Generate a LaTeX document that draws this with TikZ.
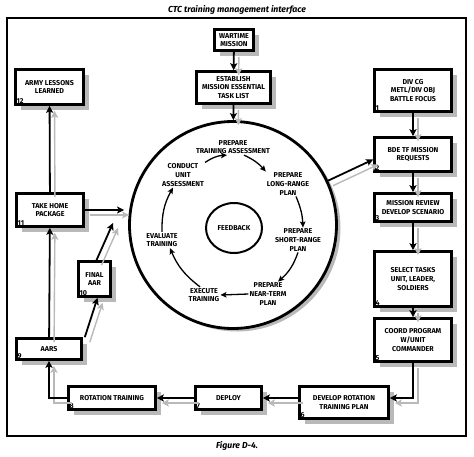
\documentclass[tikz,border=0pt]{standalone}
\usepackage{fontspec}
\setmainfont{Fira Sans}
\usetikzlibrary{arrows.meta,shadows,shapes.geometric}

\begin{document}
\begin{tikzpicture}[x=1pt,y=-1pt,
  font=\fontsize{7.1}{8.8}\selectfont\bfseries,
  box/.style={draw, line width=2.6pt, fill=white, align=center, inner sep=1pt,
    drop shadow={shadow xshift=5pt, shadow yshift=-5pt, fill=gray!55, opacity=1}},
  num/.style={anchor=south west, inner sep=2.2pt},
  stage/.style={align=center, inner sep=1pt},
  link/.style={line width=1.8pt, -{Stealth[length=7pt,width=7pt,inset=1.5pt]}},
  ghost/.style={link, gray!55, line width=1.4pt, transform canvas={shift={(5pt,-5pt)}}},
  turn/.style={line width=1.3pt, -{Stealth[length=6pt,width=5.5pt,inset=1.2pt]}}]
\useasboundingbox (0,0) rectangle (474,456);
\node[font=\fontsize{8.7}{10}\selectfont\bfseries\itshape] (title) at (237,10) {CTC training management interface};
\draw[line width=1.8pt] (7,18) rectangle (466,436);
\node[font=\fontsize{8.7}{10}\selectfont\bfseries\itshape] (fig) at (237,446) {Figure D-4.};

% training cycle
\node[circle, draw, line width=2.8pt, fill=white, minimum size=207pt,
  drop shadow={shadow xshift=4pt, shadow yshift=-3pt, fill=gray!55, opacity=1}] (cyc) at (233,225) {};
\node[ellipse, draw, line width=2pt, minimum width=56pt, minimum height=50pt] (fb) at (234,228) {FEEDBACK};
\node[stage] (tass) at (233,147) {PREPARE\\TRAINING ASSESSMENT};
\node[stage] (long) at (288,184) {PREPARE\\LONG-RANGE\\PLAN};
\node[stage] (short) at (298,240) {PREPARE\\SHORT-RANGE\\PLAN};
\node[stage] (near) at (268,294) {PREPARE\\NEAR-TERM\\PLAN};
\node[stage] (exec) at (204,295) {EXECUTE\\TRAINING};
\node[stage] (eval) at (162,240) {EVALUATE\\TRAINING};
\node[stage] (conduct) at (183,175) {CONDUCT\\UNIT\\ASSESSMENT};
\draw[turn] (conduct.north east) to[bend left=15] ([xshift=-6pt]tass.south);
\draw[turn] ([xshift=11pt]tass.south) to[bend left=12] (long.north west);
\draw[turn] ([xshift=8pt]long.south) to[bend left=10] ([xshift=5pt]short.north);
\draw[turn] (short.south) to[bend left=15] ([xshift=10pt]near.north);
\draw[turn] (near.west) -- (exec.east);
\draw[turn] ([xshift=-4pt]exec.north) to[bend left=15] ([xshift=8pt]eval.south);
\draw[turn] (eval.north) to[bend left=15] ([xshift=-10pt]conduct.south);

% boxes
\node[box, minimum width=39pt, minimum height=21pt] (war) at (234,40) {WARTIME\\MISSION};
\node[box, minimum width=74pt, minimum height=32pt] (metl) at (233.5,87.5) {ESTABLISH\\MISSION ESSENTIAL\\TASK LIST};
\node[box, minimum width=77pt, minimum height=42pt] (b1) at (413,90.5) {DIV CG\\METL/DIV OBJ\\BATTLE FOCUS};
\node[box, minimum width=77pt, minimum height=34pt] (b2) at (413,154.5) {BDE TF MISSION\\REQUESTS};
\node[box, minimum width=77pt, minimum height=28pt] (b3) at (413,207.5) {MISSION REVIEW\\DEVELOP SCENARIO};
\node[box, minimum width=77pt, minimum height=55pt] (b4) at (413,279) {SELECT TASKS\\UNIT, LEADER,\\SOLDIERS};
\node[box, minimum width=77pt, minimum height=43pt] (b5) at (413,340) {COORD PROGRAM\\W/UNIT\\COMMANDER};
\node[box, minimum width=89pt, minimum height=32pt] (b6) at (344,402.5) {DEVELOP ROTATION\\TRAINING PLAN};
\node[box, minimum width=66pt, minimum height=23pt] (b7) at (228.5,398) {DEPLOY};
\node[box, minimum width=87pt, minimum height=23pt] (b8) at (112,398) {ROTATION TRAINING};
\node[box, minimum width=65pt, minimum height=21pt] (b9) at (49,349) {AARS};
\node[box, minimum width=32pt, minimum height=35pt] (b10) at (94.5,279) {FINAL\\AAR};
\node[box, minimum width=67pt, minimum height=33pt] (b11) at (50,210) {TAKE HOME\\PACKAGE};
\node[box, minimum width=68pt, minimum height=35pt] (b12) at (49.5,87) {ARMY LESSONS\\LEARNED};
\foreach \n in {1,...,12}
  \node[num] (n\n) at (b\n.south west) {\n};

% connectors
\coordinate (in10) at (113,223);
\foreach \a/\b in {war/metl, metl/cyc, b1/b2, b2/b3, b3/b4, b4/b5, b7/b8, b9/b11, b11/b12} {
  \draw[ghost] (\a) -- (\b);
  \draw[link] (\a) -- (\b);
}
\foreach \s in {ghost, link} {
  \draw[\s] (b5.south) |- (b6.east|-b7);
  \draw[\s] (b6.west|-b7) -- (b7);
  \draw[\s] (b8.west) -| (b9.south);
  \draw[\s] ([xshift=2pt]b9.north east) -- ([xshift=3pt]b10.south);
  \draw[\s] ([xshift=2pt]b10.north) -- (in10);
  \draw[\s, shorten >=4pt] (b11.east) -- (b11.east-|cyc.west);
  \draw[\s] (cyc.25) -- ([yshift=-5pt]b2.west);
}
\end{tikzpicture}
\end{document}
